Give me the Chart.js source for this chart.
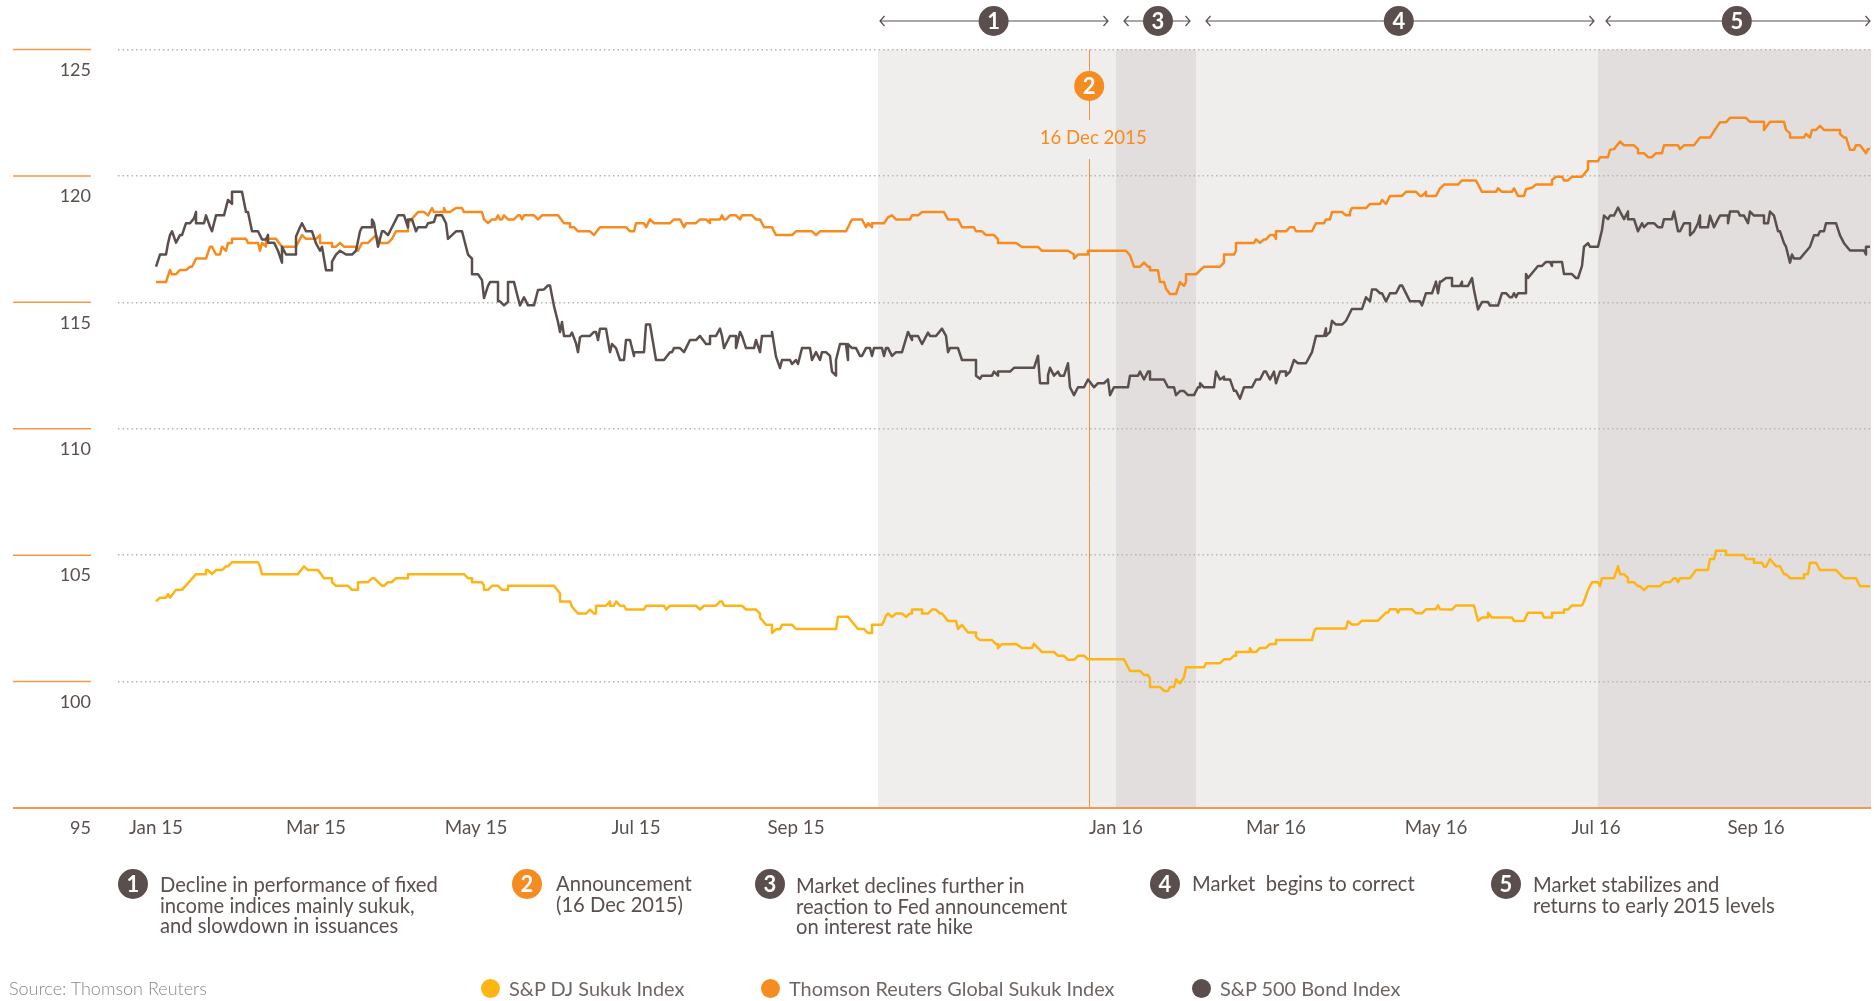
<!DOCTYPE html>
<html>
<head>
<meta charset="utf-8">
<title>Sukuk indices</title>
<script src="https://cdn.jsdelivr.net/npm/chart.js@4"></script>
<style>
  html, body { margin: 0; padding: 0; background: #fff; }
  #wrap { position: relative; width: 1874px; height: 1001px; overflow: hidden; font-family: Lato, sans-serif; font-weight: 400; color: #5a4f4c; }
  canvas { position: absolute; left: 0; top: 0; }
  .note { position: absolute; font-size: 20.2px; line-height: 20.5px; white-space: pre; }
  .num { position: absolute; width: 30px; height: 30px; border-radius: 50%; background: #5a4f4c; color: #fff; font-weight: 700; font-size: 22px; line-height: 30px; text-align: center; }
  .num.o { background: #f68b1f; }
  .foot { position: absolute; top: 977px; font-size: 19.9px; line-height: 22px; white-space: pre; color: #6f6562; }
  .dot { position: absolute; top: 979px; width: 19px; height: 19px; border-radius: 50%; }
</style>
</head>
<body>
<div id="wrap">
  <canvas id="c" width="1874" height="1001"></canvas>

  <div class="num" style="left:118px;top:869px">1</div>
  <div class="note" style="left:160px;top:874px">Decline in performance of fixed
income indices mainly sukuk,
and slowdown in issuances</div>
  <div class="num o" style="left:512px;top:869px">2</div>
  <div class="note" style="left:556px;top:873px">Announcement
(16 Dec 2015)</div>
  <div class="num" style="left:755px;top:869px">3</div>
  <div class="note" style="left:796px;top:875px">Market declines further in
reaction to Fed announcement
on interest rate hike</div>
  <div class="num" style="left:1150px;top:869px">4</div>
  <div class="note" style="left:1192px;top:873px">Market  begins to correct</div>
  <div class="num" style="left:1491px;top:869px">5</div>
  <div class="note" style="left:1533px;top:874px">Market stabilizes and
returns to early 2015 levels</div>

  <div class="foot" style="left:9px;color:#8f8783;font-weight:300;font-size:18px">Source: Thomson Reuters</div>
  <div class="dot" style="left:481px;background:#fdb515"></div>
  <div class="foot" style="left:509px">S&amp;P DJ Sukuk Index</div>
  <div class="dot" style="left:761px;background:#f68b1f"></div>
  <div class="foot" style="left:789px">Thomson Reuters Global Sukuk Index</div>
  <div class="dot" style="left:1192px;background:#5a4f4c"></div>
  <div class="foot" style="left:1220px">S&amp;P 500 Bond Index</div>
</div>

<script>
// X axis: trading days since January 2015 (40 days = two months on this chart).
const xTickLabels = ["Jan 15","Mar 15","May 15","Jul 15","Sep 15","","Jan 16","Mar 16","May 16","Jul 16","Sep 16"];
const yTickValues = [95,100,105,110,115,120,125];

const bondDays = [0,1,2.5,3,3.5,4,5,6,6.5,7.5,8.5,9.5,10,10,12,12.5,13.5,14,15,17,18,19,19,21.5,22.5,23,24,25.5,26.5,27.5,28,28,29.5,30.5,31.5,31.5,32.5,35,35,36,36.5,37.5,39,40,41,41.5,42.5,44,44,45,46,47.5,49,50,51,51.5,54,54,54.5,55.5,56.5,57,58,59,60,60.5,62,63,63,64,65,65.5,67.5,68,69.5,70,71.5,72.5,73,75,76.5,77.5,78,79,79,80.5,81.5,82,83,83.5,85.5,85.5,86,87,88,88,89.5,90.5,91,92,93,94.5,95.5,97,98,98.5,99.5,100.5,101,101.5,102,103.5,104,105,105.5,106,
106.5,108.5,109.5,110,110.5,111,112.5,113.5,114,115,116,117,117.5,118.5,119.5,119.5,122,122.5,123.5,125,127,128.5,129,129.5,131,132,132.5,133.5,135,136,137.5,138.5,138.5,140,141,141.5,142,142.5,143.5,145,145,146,146.5,147.5,149.5,150,151,151.5,154,154,155,156,156.5,158.5,159,160,160.5,161,161.5,163.5,164,165,166,166.5,167.5,168.5,169,170,170,171,172.5,173,173,174,175,176,176.5,177.5,178.5,179,179.5,181.5,182,182.5,183,184,185,186.5,188,189,189,190.5,191.5,193,193.5,195,196.5,197.5,198,198.5,200.5,201.5,205,205,206,206.5,209,209.5,210.5,210.5,213.5,
214.5,219.5,220.5,221,223,223,223.5,224.5,225.5,226,227,228,228.5,229.5,230.5,232,233,234.5,235.5,237,238,238.5,239.5,243,243.5,245.5,246,247,248,248.5,248.5,252,253,254.5,255,256,257,258,259.5,260.5,261,261,262,264.5,265,266,267,267,268.5,269.5,270,271,272,274,275,276,277,277.5,278.5,279.5,280,281,282.5,282.5,283.5,284.5,285.5,287.5,288.5,289,290,292,292.5,292.5,293.5,294,295,296.5,297.5,298.5,299,301.5,302.5,303.5,304,305,306,306.5,307.5,308.5,310,311,311.5,313.5,316,316.5,317.5,319,320,320.5,321,
321,322.5,324,324,326,326.5,326.5,328,329,329.5,330.5,331.5,333,333.5,335.5,336.5,337.5,338.5,339,339.5,340,340.5,342.5,342.5,343,345.5,346.5,347.5,348.5,349,349,351.5,352,354,355,355.5,356.5,357,358,358.5,360.5,361.5,362,363,363.5,364.5,365.5,366,367,368,368,369.5,370.5,371.5,372,373,374.5,375.5,376.5,377,379,379.5,380.5,381,382,383.5,383.5,384.5,385.5,386,386,388,388.5,389.5,390.5,391,393,393,393.5,395.5,396,397,398,398.5,399.5,402,402,403,403.5,404.5,405.5,406,407,407.5,408.5,409,409.5,411,413.5,414.5,415.5,416,417,417.5,420,421,422,423.5,427,427.5,427.5,428.5];
const bondValues = [116.41,116.89,116.89,117.33,117.66,117.81,117.36,117.66,117.66,118.13,118.13,118.32,118.57,118.13,118.13,118.44,117.99,117.81,118.44,118.44,119.05,118.89,119.37,119.37,118.57,118.57,117.81,117.81,117.49,117.49,117.66,117.36,117.36,117.04,116.57,117.2,116.89,116.89,117.6,117.97,118.13,117.81,117.81,117.33,117.04,117.2,116.27,116.27,116.61,116.89,117.04,116.89,116.89,117.04,117.81,117.97,117.97,118.28,118.13,117.2,117.81,117.81,117.66,117.97,118.28,118.44,118.44,117.97,118.28,118.28,117.81,117.97,117.97,118.13,118.18,118.44,118.44,118.13,117.51,117.81,117.81,117.2,116.89,116.73,116.11,116.11,115.88,115.17,115.65,115.8,115.8,115.04,115.04,114.88,115.01,115.8,115.8,115.17,114.88,115.2,114.88,114.88,115.49,115.51,115.67,115.67,114.85,114.22,113.83,114.22,113.67,113.67,113.8,113.38,113.03,113.62,
113.67,113.67,113.83,113.83,113.51,113.96,113.96,113.03,113.35,113.19,112.72,112.72,113.51,113.51,112.88,113.03,113.03,114.12,114.12,112.72,112.72,113.03,113.03,113.19,113.19,113.03,113.19,113.51,113.51,113.67,113.35,113.35,113.67,113.67,113.96,113.67,113.19,113.35,113.67,113.67,113.19,113.83,113.67,113.19,113.19,113.51,113.03,113.67,113.67,113.83,112.85,112.4,112.72,112.72,112.56,112.72,112.56,112.88,113.19,113.19,112.72,113.03,112.72,113.03,113.03,112.88,112.26,112.1,112.72,113.35,113.35,112.72,113.35,113.19,113.19,112.88,112.88,113.19,113.19,112.88,113.19,113.19,112.88,113.19,113.19,112.88,113.03,113.03,113.83,113.51,113.67,113.67,113.35,113.8,113.67,113.67,113.96,113.67,113.03,113.19,113.19,112.72,112.72,112.1,111.98,112.1,112.1,112.26,112.1,112.26,112.26,
112.41,112.41,112.89,111.8,111.8,112.12,112.41,112.1,112.26,112.1,112.1,112.59,111.64,111.33,111.64,111.64,111.95,111.64,111.8,111.8,111.95,111.33,111.64,111.64,112.1,112.1,112.26,111.95,112.26,112.26,111.95,111.95,111.64,111.64,111.33,111.49,111.49,111.33,111.33,111.64,111.64,111.8,111.64,111.64,112.26,111.95,112.06,111.95,111.95,111.5,111.5,111.19,111.64,111.64,111.95,111.95,112.26,112.26,111.95,112.26,111.8,112.26,112.26,112.1,112.26,112.72,112.59,112.59,112.88,113.03,113.67,113.67,113.97,113.67,113.83,114.27,114.12,114.12,114.27,114.59,114.74,114.74,115.2,115.04,115.51,115.51,115.36,115.36,115.04,115.36,115.36,115.67,115.67,115.04,115.04,114.88,115.36,115.36,115.82,115.36,115.82,
115.78,115.96,115.96,115.65,115.65,115.81,115.65,115.65,115.96,115.49,114.72,115.01,115.01,114.87,114.87,115.36,115.36,115.2,115.2,115.36,115.2,115.36,115.36,116.12,115.96,116.44,116.44,116.6,116.6,116.44,116.6,116.6,116.12,116.12,115.96,115.96,116.44,117.2,117.34,117.2,117.2,117.86,118.43,118.29,118.43,118.43,118.75,118.59,118.29,118.59,118.29,118.29,117.81,118.13,117.97,118.13,118.13,117.97,117.97,118.29,118.29,118.59,117.81,117.81,118.13,118.13,117.65,117.81,118.13,118.43,117.97,117.97,118.43,117.97,118.29,118.43,118.43,118.13,118.59,118.59,118.43,118.43,118.13,118.59,118.43,118.43,118.13,118.13,118.59,118.43,117.81,117.81,117.34,117.2,116.57,116.89,116.73,116.73,117.2,117.65,117.65,117.81,117.81,118.13,118.13,117.65,117.34,117.05,117.05,116.89,117.2,117.2];

const globalDays = [0,2.5,3.5,4,5,6,7.5,8.5,9,10,12.5,13.5,14,15,16,16.5,17.5,18,19,19,22.5,23,25.5,26,26.5,27.5,27.5,30,31.5,35,36,36.5,37.5,40,41,41,44,44,45,46,47,50,50.5,51.5,53,55,56,58,59,60,63,63,65.5,67,68,69,69.5,72,72,72.5,73.5,75,76.5,77,81.5,82,83,84,85,85.5,86,86.5,87,88,89.5,90.5,91,91.5,92,94.5,95.5,96.5,100.5,102,103.5,103.5,104.5,105.5,106,
108.5,109.5,111,117.5,118.5,119.5,120,122,122.5,123.5,124.5,128.5,129.5,131,132,132.5,135,136,137.5,138.5,138.5,141,141.5,142,142.5,143.5,145,146,146.5,149,150,151,152,154,155,159,160,164,165,166,172.5,173.5,174,176.5,177.5,178,179,179,182,183,184,185,188.5,189,190.5,191.5,197,198,200.5,201.5,204.5,205,206.5,207.5,209.5,210.5,210.5,213.5,
215,216.5,220.5,221.5,228,229.5,229.5,230.5,233,233,242.5,243.5,244.5,246,247,248,248.5,248.5,250.5,251,252,252.5,253.5,255,256,257,257.5,257.5,260,262,266,267,267,269.5,270,270,274.5,275,276,277,277.5,278.5,279.5,280,280,282.5,283.5,284.5,285,289,290,292,292.5,293.5,294,296.5,297.5,298.5,298.5,299,302.5,303.5,306,306.5,307.5,308.5,311.5,312.5,315,316,316.5,317.5,317.5,320,321,
321,322,325.5,326.5,330,331.5,335,335.5,336.5,339,339.5,340.5,342,342.5,344,345,349,349,350,351.5,352,353,354,356.5,358,358,360.5,361,363,363.5,364.5,366,367,369.5,370.5,370.5,372,373,374,375,376.5,377,380.5,381,382,384.5,386,388.5,390,391,392.5,393.5,397.5,398.5,402,402,403.5,407,407.5,408.5,408.5,412,412.5,413.5,414,415,416,417,421,421,422,422.5,423.5,424.5,425,426,427.5,428,428.5];
const globalValues = [115.8,115.8,116.28,116.11,116.11,116.28,116.28,116.41,116.41,116.73,116.73,117.2,117.2,116.89,116.89,117.2,117.04,117.35,117.35,117.51,117.51,117.35,117.35,117.04,117.35,117.2,117.51,117.51,117.2,117.2,117.51,117.66,117.51,117.51,117.66,117.35,117.35,117.2,117.2,117.35,117.2,117.2,117.04,117.35,117.35,117.66,117.35,117.35,117.51,117.81,117.81,118.13,118.57,118.57,118.44,118.73,118.57,118.57,118.73,118.57,118.57,118.73,118.73,118.57,118.57,118.28,118.13,118.28,118.28,118.44,118.28,118.28,118.44,118.28,118.28,118.44,118.44,118.28,118.44,118.44,118.28,118.44,118.44,118.13,118.13,117.97,117.97,117.81,117.81,
117.81,117.66,117.97,117.97,117.81,117.81,118.13,118.13,117.97,118.28,118.13,118.13,118.28,118.28,117.97,118.13,118.13,118.28,118.28,118.13,118.28,118.28,118.44,118.28,118.28,118.44,118.44,118.28,118.44,118.44,118.28,118.28,117.97,117.97,117.66,117.66,117.81,117.81,117.66,117.81,117.81,118.13,118.28,118.28,117.97,118.13,117.97,118.13,118.13,118.36,118.44,118.28,118.28,118.44,118.44,118.57,118.57,118.28,118.28,117.97,117.97,117.81,117.81,117.66,117.66,117.49,117.35,117.35,
117.35,117.19,117.19,117.04,117.04,116.89,116.73,116.89,116.89,117.04,117.04,116.86,116.41,116.41,116.57,116.41,116.41,116.27,116.27,115.8,115.8,115.54,115.33,115.33,115.8,115.65,115.8,116.11,116.11,116.41,116.41,116.57,116.89,116.89,117.04,117.35,117.35,117.49,117.35,117.49,117.49,117.66,117.66,117.51,117.81,117.81,117.97,117.97,117.81,117.81,118.13,118.13,118.28,118.28,118.57,118.57,118.44,118.44,118.57,118.73,118.73,118.89,118.89,119.05,118.89,119.21,119.21,119.37,119.37,119.21,119.21,119.37,119.21,119.21,119.51,
119.5,119.66,119.66,119.82,119.82,119.37,119.37,119.51,119.37,119.37,119.51,119.21,119.21,119.47,119.53,119.66,119.66,119.84,119.97,119.97,119.82,119.82,119.97,119.97,120.26,120.58,120.58,120.74,120.74,121.03,121.06,121.36,121.21,121.21,121.06,120.9,120.9,120.74,120.74,120.9,120.9,121.21,121.21,121.06,121.21,121.21,121.52,121.52,121.89,122.12,122.12,122.3,122.3,122.14,122.14,121.82,122.14,122.14,121.82,121.69,121.52,121.52,121.66,121.52,121.82,121.82,121.98,121.82,121.82,121.66,121.52,121.52,121.03,121.03,121.21,121.21,120.9,121.06,121.06];

const sukukDays = [0,1,2.5,3,3.5,5,6.5,10,12.5,12.5,13,14,15,16.5,17.5,18,19,25.5,26,26.5,35.5,37,38,40.5,42,44,44,45,48,49,50.5,50.5,53,54,54.5,56.5,57,58,59,60,63,63,77,78,79,79,81.5,82,82,83,84,85.5,86.5,88,88,99.5,101,101,103.5,104,105.5,106,
107.5,108.5,109.5,110,110,112.5,113.5,113.5,114.5,115,116,117,117.5,122,122.5,127,127.5,128.5,135,136,137,140,141,141.5,142,146.5,147.5,150,151,151,152.5,154,154,155,156,156.5,159,160,170,170.5,173,175.5,177,178,179,179,181.5,182,182.5,183,184,185,186.5,187.5,188.5,189,189,191.5,191.5,193,194,195,196,196.5,198,200,200.5,201.5,203,205,205,206,209,210,210.5,210.5,211.5,213.5,
215,216.5,219,219.5,221.5,224.5,225.5,227,228,229.5,230.5,232,233,242,242.5,243.5,246,247,248,248.5,248.5,251,252,253,253.5,254.5,255,256,257,257.5,262,262.5,266,267,268.5,269.5,270,270,273.5,273.5,274,275,276,277.5,278.5,280,280,289,289.5,290,297.5,298,299,300.5,301.5,305.5,307.5,308,308.5,310,310.5,311,314,315,316.5,317.5,320,320.5,321,
324,325,329.5,330.5,331.5,333,333,334,339,339.5,342,342.5,343,346.5,347,349,349,352,352,353,354,356.5,357,358,359,360.5,361,361.5,364.5,365.5,366,367,368,368,369.5,370.5,371,372,373,376,377,378.5,379.5,380,380.5,381,383.5,385,388,388.5,389.5,390,392.5,392.5,397,397.5,399.5,399.5,401.5,402,402.5,403.5,405,406,407,407.5,408.5,412,412,413,413.5,415,416,420,422,425,426,428.5];
const sukukValues = [103.17,103.32,103.32,103.46,103.32,103.63,103.63,104.25,104.25,104.41,104.41,104.25,104.41,104.41,104.56,104.56,104.72,104.72,104.56,104.25,104.25,104.56,104.41,104.41,104.09,104.09,103.93,103.79,103.79,103.63,103.63,103.93,103.93,104.09,104.09,103.79,103.79,103.93,103.93,104.09,104.09,104.25,104.25,104.09,104.09,103.93,103.93,103.79,103.63,103.63,103.79,103.79,103.63,103.63,103.79,103.79,103.48,103.17,103.17,102.96,102.69,102.69,
102.69,102.85,102.69,102.69,103.0,103.0,103.17,103.0,103.0,103.17,103.0,103.0,102.85,102.85,103.0,103.0,102.85,103.0,103.0,102.85,103.0,103.0,103.17,103.17,103.0,103.0,102.85,102.85,102.69,102.53,102.25,102.25,101.92,102.07,102.07,102.25,102.25,102.08,102.08,102.56,102.56,102.08,102.08,101.92,101.92,102.25,102.25,102.4,102.61,102.69,102.56,102.69,102.69,102.56,102.69,102.69,102.85,102.85,102.69,102.69,102.85,102.85,102.69,102.69,102.4,102.4,102.08,102.24,101.94,101.94,101.77,101.64,101.64,101.48,101.48,101.32,101.48,101.48,
101.49,101.33,101.33,101.49,101.17,101.17,101.02,101.02,100.86,100.86,101.02,101.02,100.88,100.88,100.73,100.42,100.42,100.26,100.26,100.13,99.79,99.79,99.63,99.63,99.79,99.79,100.09,99.93,100.17,100.57,100.57,100.73,100.73,100.88,100.88,101.02,101.02,101.17,101.17,101.32,101.17,101.17,101.33,101.33,101.49,101.49,101.64,101.64,101.97,102.1,102.1,102.39,102.26,102.26,102.41,102.41,102.73,102.73,102.86,102.86,102.73,102.86,102.86,102.7,102.7,102.86,102.86,103.02,102.86,
102.85,103.01,103.01,102.4,102.53,102.53,102.72,102.53,102.53,102.4,102.4,102.56,102.72,102.72,102.53,102.53,102.72,102.72,102.85,102.85,103.01,103.01,103.17,103.62,103.93,103.93,103.77,104.09,104.09,104.56,104.25,104.25,104.09,103.93,103.93,103.77,103.77,103.62,103.77,103.77,103.93,103.93,104.09,104.09,103.93,104.09,104.09,104.41,104.41,104.85,104.85,105.17,105.17,105.01,105.01,104.85,104.85,104.7,104.7,104.54,104.54,104.85,104.56,104.56,104.25,104.25,104.09,104.09,104.25,104.25,104.7,104.7,104.41,104.41,104.09,104.09,103.77,103.77];

// Shaded phases and the announcement, on the same day axis.
const lightBand = [180.5, 360.5];
const darkBands = [[240, 260], [360.5, 428.75]];
const announcementDay = 233.3;
const announcementLabel = "16 Dec 2015";
const phaseArrows = [
  { label: "1", from: 181, to: 238, mid: 209.4 },
  { label: "3", from: 242, to: 258.5, mid: 250.5 },
  { label: "4", from: 262.5, to: 359.5, mid: 310.7 },
  { label: "5", from: 362.5, to: 428.5, mid: 395.2 }
];

const INK = "#5a4f4c", ORANGE = "#f68b1f", YELLOW = "#fdb515";
const zip = (xs, ys) => xs.map((x, i) => ({ x, y: ys[i] }));

const overlay = {
  id: "overlay",
  beforeDraw(chart) {
    const { ctx, chartArea: a, scales: { x } } = chart;
    ctx.save();
    ctx.fillStyle = "#f0eeed";
    ctx.fillRect(x.getPixelForValue(lightBand[0]), a.top, x.getPixelForValue(lightBand[1]) - x.getPixelForValue(lightBand[0]), a.bottom - a.top);
    ctx.fillStyle = "#e3dede";
    darkBands.forEach(([s, e]) => ctx.fillRect(x.getPixelForValue(s), a.top, x.getPixelForValue(e) - x.getPixelForValue(s), a.bottom - a.top));
    ctx.restore();
  },
  beforeDatasetsDraw(chart) {
    const { ctx, chartArea: a, scales: { x } } = chart;
    const vx = Math.round(x.getPixelForValue(announcementDay)) + 0.5;
    ctx.save();
    ctx.strokeStyle = "#ee9440";
    ctx.lineWidth = 1;
    ctx.beginPath();
    ctx.moveTo(vx, a.top); ctx.lineTo(vx, 120);
    ctx.moveTo(vx, 159); ctx.lineTo(vx, a.bottom);
    ctx.stroke();
    ctx.restore();
  },
  afterDraw(chart) {
    const { ctx, chartArea: a, scales: { x, y } } = chart;
    ctx.save();
    // orange tick segments on the left
    ctx.strokeStyle = "#f5984a";
    yTickValues.forEach(v => {
      const py = y.getPixelForValue(v);
      ctx.beginPath();
      ctx.moveTo(13, py); ctx.lineTo(v === 95 ? a.right : 91, py);
      ctx.lineWidth = v === 95 ? 2 : 1.5;
      ctx.stroke();
    });
    // phase arrows
    const ay = 21;
    phaseArrows.forEach(p => {
      const x0 = x.getPixelForValue(p.from), x1 = x.getPixelForValue(p.to), xm = x.getPixelForValue(p.mid);
      ctx.strokeStyle = INK;
      ctx.lineWidth = 1.2;
      ctx.beginPath();
      ctx.moveTo(x0, ay); ctx.lineTo(x1, ay);
      ctx.moveTo(x0 + 4.5, ay - 5); ctx.lineTo(x0, ay); ctx.lineTo(x0 + 4.5, ay + 5);
      ctx.moveTo(x1 - 4.5, ay - 5); ctx.lineTo(x1, ay); ctx.lineTo(x1 - 4.5, ay + 5);
      ctx.stroke();
      badge(ctx, xm, ay, p.label, INK);
    });
    // announcement marker and date
    const vx = x.getPixelForValue(announcementDay);
    badge(ctx, vx, 86, "2", ORANGE);
    ctx.fillStyle = ORANGE;
    ctx.font = "400 18.6px Lato, sans-serif";
    ctx.textAlign = "center";
    ctx.textBaseline = "middle";
    ctx.fillText(announcementLabel, vx + 4, 138);
    ctx.restore();
  }
};
function badge(ctx, cx, cy, label, color) {
  ctx.fillStyle = color;
  ctx.beginPath();
  ctx.arc(cx, cy, 15, 0, Math.PI * 2);
  ctx.fill();
  ctx.fillStyle = "#fff";
  ctx.font = "700 22px Lato, sans-serif";
  ctx.textAlign = "center";
  ctx.textBaseline = "middle";
  ctx.fillText(label, cx, cy + 1);
}

const lineStyle = { borderWidth: 2.5, pointRadius: 0, tension: 0, fill: false, borderJoinStyle: "round" };

new Chart(document.getElementById("c"), {
  type: "line",
  data: {
    datasets: [
      { label: "S&P 500 Bond Index", data: zip(bondDays, bondValues), borderColor: INK, ...lineStyle },
      { label: "Thomson Reuters Global Sukuk Index", data: zip(globalDays, globalValues), borderColor: ORANGE, ...lineStyle },
      { label: "S&P DJ Sukuk Index", data: zip(sukukDays, sukukValues), borderColor: YELLOW, ...lineStyle }
    ]
  },
  options: {
    responsive: false,
    animation: false,
    devicePixelRatio: 1,
    layout: { padding: { top: 49.5, right: 3, left: 0, bottom: 0 } },
    plugins: { legend: { display: false }, tooltip: { enabled: false } },
    scales: {
      x: {
        type: "linear",
        min: -9.5,
        max: 428.75,
        afterFit(s) { s.height = 193; },
        border: { display: false },
        grid: { display: false, drawTicks: false },
        ticks: {
          stepSize: 40,
          includeBounds: false,
          autoSkip: false,
          maxRotation: 0,
          padding: 9,
          color: INK,
          font: { family: "Lato, sans-serif", weight: 400, size: 18.8 },
          callback: v => xTickLabels[v / 40] ?? ""
        }
      },
      y: {
        min: 95,
        max: 125,
        afterFit(s) { s.width = 118; },
        border: { display: false, dash: [1.5, 3] },
        grid: { color: "#b9b5b2", lineWidth: 1.5, drawTicks: false },
        ticks: {
          stepSize: 5,
          padding: 27,
          labelOffset: 20.5,
          color: INK,
          font: { family: "Lato, sans-serif", weight: 400, size: 18 }
        }
      }
    }
  },
  plugins: [overlay]
});
</script>
</body>
</html>
